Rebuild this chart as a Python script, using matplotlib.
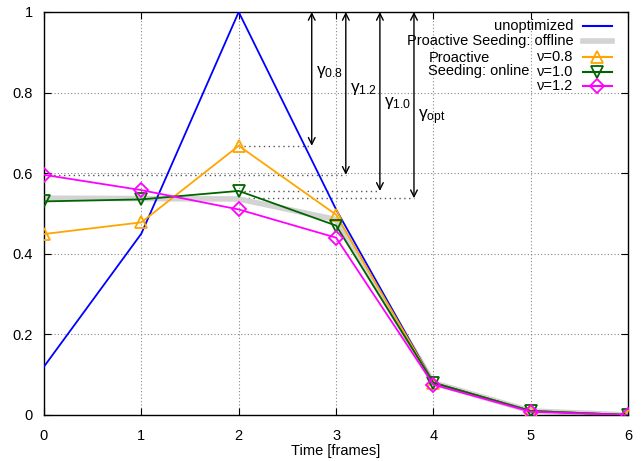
import numpy as np
import matplotlib
matplotlib.use('Agg')
from matplotlib import pyplot as plt
from matplotlib.lines import Line2D

plt.rcParams['font.family'] = ['Liberation Sans', 'DejaVu Sans']
plt.rcParams['mathtext.fontset'] = 'custom'
plt.rcParams['mathtext.rm'] = 'Liberation Sans'
plt.rcParams['mathtext.it'] = 'Liberation Sans'

frames = [0, 1, 2, 3, 4, 5, 6]
unopt = [0.12, 0.45, 1.0, 0.51, 0.08, 0.01, 0.0]
offline = [0.538, 0.537, 0.536, 0.485, 0.08, 0.01, 0.0]
nu08 = [0.449, 0.478, 0.668, 0.497, 0.08, 0.01, 0.0]
nu10 = [0.53, 0.535, 0.556, 0.47, 0.08, 0.01, 0.0]
nu12 = [0.596, 0.558, 0.51, 0.44, 0.075, 0.008, 0.0]

# gamma arrows: (series, x of arrow, label)
gammas = [(nu08, 2.75, '\u03b3$_{0.8}$'),
          (nu12, 3.10, '\u03b3$_{1.2}$'),
          (nu10, 3.45, '\u03b3$_{1.0}$'),
          (offline, 3.80, '\u03b3$_{\\mathrm{opt}}$')]
gamma_label_y = [0.85, 0.81, 0.775, 0.74]

fig = plt.figure(figsize=(6.41, 4.61), dpi=100)
ax = fig.add_axes([0.0686, 0.0998, 0.9114, 0.8742])

ax.plot(frames, offline, color='#d3d3d3', lw=4, zorder=2)
ax.plot(frames, unopt, color='#0000ff', lw=1.3, zorder=3)
ax.plot(frames, nu08, color='#ffa500', lw=1.3, marker='^', ms=9, mfc='none', mew=1.3, zorder=4)
ax.plot(frames, nu10, color='#006400', lw=1.3, marker='v', ms=9, mfc='none', mew=1.3, zorder=5)
ax.plot(frames, nu12, color='#ff00ff', lw=1.3, marker='D', ms=7, mfc='none', mew=1.3, zorder=6)

for (s, xa, lab), ly in zip(gammas, gamma_label_y):
    top = max(s)
    xi = frames[int(np.argmax(s))]
    ax.plot([xi, xa], [top, top], color='#555555', lw=1, ls=(0, (1, 2.5)), zorder=1)
    ax.annotate('', xy=(xa, top), xytext=(xa, 1.0),
                arrowprops=dict(arrowstyle='<->', color='black', lw=1, mutation_scale=12,
                                shrinkA=0, shrinkB=0), zorder=7)
    ax.text(xa + 0.04, ly, lab, fontsize=12.5, ha='left', va='center')

ax.set_xlim(0, 6)
ax.set_ylim(0, 1)
ax.set_xticks(frames)
ax.set_yticks([0, 0.2, 0.4, 0.6, 0.8, 1])
ax.set_yticklabels(['0', '0.2', '0.4', '0.6', '0.8', '1'])
ax.tick_params(direction='in', top=True, right=True, labelsize=10.5, length=5)
ax.tick_params(axis='x', pad=10)
ax.tick_params(axis='y', pad=8)
ax.grid(True, color='#888888', ls=(0, (1, 2)), lw=0.8)
ax.set_xlabel('Time [frames]', fontsize=10.5, labelpad=1)
for sp in ax.spines.values():
    sp.set_linewidth(1)

# legend drawn gnuplot style
leg_rows = [('unoptimized', dict(color='#0000ff', lw=1.5)),
            ('Proactive Seeding: offline', dict(color='#d3d3d3', lw=4)),
            ('\u03bd=0.8', dict(color='#ffa500', lw=1.5, marker='^', ms=9, mfc='none', mew=1.3)),
            ('\u03bd=1.0', dict(color='#006400', lw=1.5, marker='v', ms=9, mfc='none', mew=1.3)),
            ('\u03bd=1.2', dict(color='#ff00ff', lw=1.5, marker='D', ms=7, mfc='none', mew=1.3))]
ys = [0.966, 0.927, 0.889, 0.852, 0.816]
for (lab, kw), yy in zip(leg_rows, ys):
    ax.text(0.906, yy, lab, transform=ax.transAxes, ha='right', va='center', fontsize=10.5)
    ax.add_line(Line2D([0.922, 0.947, 0.972], [yy, yy, yy], transform=ax.transAxes,
                       clip_on=False, markevery=[1], **kw))
ax.text(0.658, 0.87, 'Proactive\nSeeding: online', transform=ax.transAxes, ha='left', va='center',
        fontsize=10.5, linespacing=0.9)

fig.savefig('out.png', dpi=100)
